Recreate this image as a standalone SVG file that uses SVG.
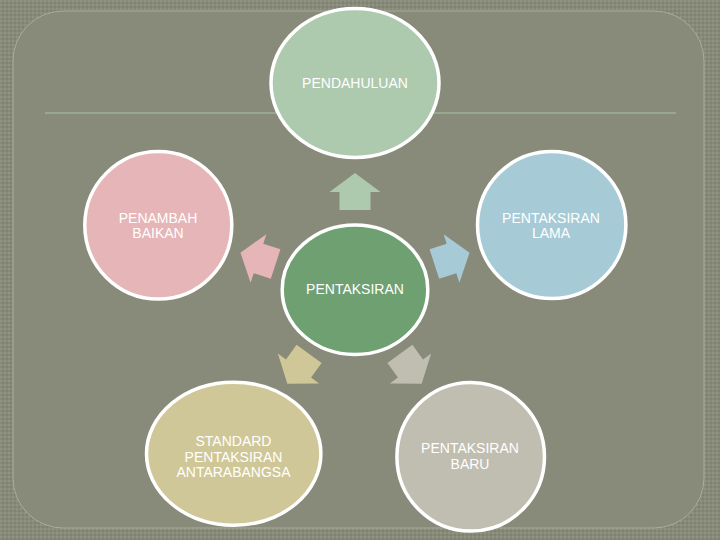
<svg xmlns="http://www.w3.org/2000/svg" width="720" height="540" viewBox="0 0 720 540">
<defs>
<pattern id="dots" width="4" height="4" patternUnits="userSpaceOnUse">
<rect width="4" height="4" fill="#878979"/>
<rect width="2" height="2" fill="#919382"/>
<rect x="2" y="2" width="2" height="2" fill="#7f8172"/>
</pattern>
<path id="arr" d="M0,-19 L25.5,0 L15.5,0 L15.5,18 L-15.5,18 L-15.5,0 L-25.5,0 Z"/>
</defs>
<style>
.node ellipse{stroke:#ffffff;stroke-width:3.5}
.lbl{font-family:"Liberation Sans",Arial,sans-serif;font-size:14px;fill:#ffffff;text-anchor:middle}
</style>
<rect width="720" height="540" fill="url(#dots)"/>
<rect x="13" y="11" width="691" height="517" rx="50" ry="50" fill="#888a7a" stroke="#a9ad9a" stroke-width="1"/>
<line x1="45" y1="113" x2="676" y2="113" stroke="#9cb099" stroke-width="1.5"/>
<g id="connectors">
<use href="#arr" fill="#adc9ae" transform="translate(355,192)"/>
<use href="#arr" fill="#e6b5b8" transform="translate(258.5,258.5) rotate(-72)"/>
<use href="#arr" fill="#a7cbd6" transform="translate(451.5,258.5) rotate(72)"/>
<use href="#arr" fill="#cfc797" transform="translate(298.5,368.5) rotate(-144)"/>
<use href="#arr" fill="#c0beb0" transform="translate(410.5,368.5) rotate(144)"/>
</g>
<g id="n-pendahuluan" class="node">
<ellipse cx="355" cy="83" rx="84" ry="74.5" fill="#adc9ae"/>
<text class="lbl" x="355" y="88">PENDAHULUAN</text>
</g>
<g id="n-penambah" class="node">
<ellipse cx="158.3" cy="225.3" rx="73.5" ry="73.8" fill="#e6b5b8"/>
<text class="lbl" x="158" y="222.7">PENAMBAH</text>
<text class="lbl" x="158" y="237.7">BAIKAN</text>
</g>
<g id="n-lama" class="node">
<ellipse cx="551.7" cy="225" rx="74.2" ry="73.5" fill="#a7cbd6"/>
<text class="lbl" x="551" y="222.7">PENTAKSIRAN</text>
<text class="lbl" x="551" y="237.7">LAMA</text>
</g>
<g id="n-pentaksiran" class="node">
<ellipse cx="355" cy="289.7" rx="72.8" ry="64.8" fill="#6ea072"/>
<text class="lbl" x="355" y="293.5">PENTAKSIRAN</text>
</g>
<g id="n-standard" class="node">
<ellipse cx="233.7" cy="453.7" rx="87.2" ry="71.5" fill="#cfc797"/>
<text class="lbl" x="233.5" y="446">STANDARD</text>
<text class="lbl" x="233.5" y="461.7">PENTAKSIRAN</text>
<text class="lbl" x="233.5" y="477.3">ANTARABANGSA</text>
</g>
<g id="n-baru" class="node">
<ellipse cx="470.7" cy="456.8" rx="73.8" ry="74.3" fill="#c0beb0"/>
<text class="lbl" x="470" y="453.3">PENTAKSIRAN</text>
<text class="lbl" x="470" y="469.3">BARU</text>
</g>
</svg>
